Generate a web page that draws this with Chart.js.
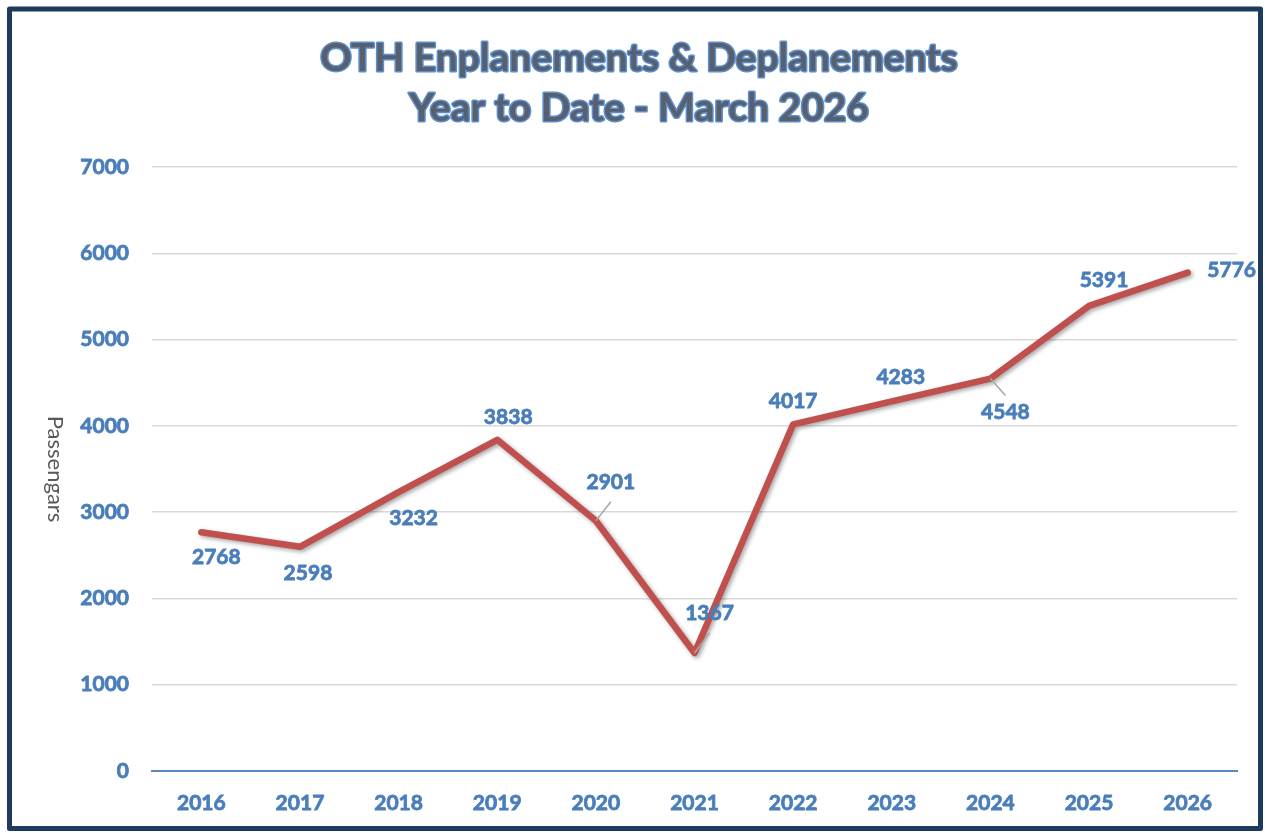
<!DOCTYPE html>
<html>
<head>
<meta charset="utf-8">
<script src="https://cdn.jsdelivr.net/npm/chart.js@4.4.1/dist/chart.umd.min.js"></script>
<style>
  html, body { margin: 0; padding: 0; background: #fff; }
  canvas { display: block; }
</style>
</head>
<body>
<canvas id="myChart" width="1265" height="833"></canvas>
<script>
const years = ["2016", "2017", "2018", "2019", "2020", "2021", "2022", "2023", "2024", "2025", "2026"];
const passengers = [2768, 2598, 3232, 3838, 2901, 1367, 4017, 4283, 4548, 5391, 5776];
const yTicks = [0, 1000, 2000, 3000, 4000, 5000, 6000, 7000];
const titleLines = ["OTH Enplanements & Deplanements", "Year to Date - March 2026"];
const axisTitle = "Passengars";

// where each value label sits relative to its point: [dx, dy, leader line]
const labelPlacement = [
  [15, 25, false], [8, 26, false], [15, 26, false], [11, -23, false],
  [15, -38, true], [15, -40, true], [0, -23, false], [9, -24, false],
  [15, 34, true], [15, -26, false], [44, -2, false]
];

const BLUE = "#4a7ebb";
const FONT = "Lato, 'Open Sans', sans-serif";

const decorPlugin = {
  id: "decor",
  beforeDatasetsDraw(chart) {
    const ctx = chart.ctx;
    ctx.save();
    ctx.shadowColor = "rgba(0,0,0,0.35)";
    ctx.shadowBlur = 4;
    ctx.shadowOffsetX = 2;
    ctx.shadowOffsetY = 2;
  },
  afterDatasetsDraw(chart) {
    const ctx = chart.ctx;
    ctx.restore();

    // value labels
    const meta = chart.getDatasetMeta(0);
    ctx.save();
    ctx.font = "bold 21px " + FONT;
    ctx.textAlign = "center";
    ctx.textBaseline = "middle";
    meta.data.forEach((pt, i) => {
      const [dx, dy, leader] = labelPlacement[i];
      if (leader) {
        ctx.strokeStyle = "#a6a6a6";
        ctx.lineWidth = 1.5;
        ctx.beginPath();
        ctx.moveTo(pt.x, pt.y);
        ctx.lineTo(pt.x + dx, pt.y + dy * 0.5);
        ctx.stroke();
      }
      ctx.fillStyle = BLUE;
      ctx.strokeStyle = BLUE;
      ctx.lineWidth = 0.8;
      ctx.fillText(String(passengers[i]), pt.x + dx, pt.y + dy);
      ctx.strokeText(String(passengers[i]), pt.x + dx, pt.y + dy);
    });
    ctx.restore();
  },
  afterDraw(chart) {
    const ctx = chart.ctx;
    ctx.save();
    // title with blue outline
    ctx.font = "bold 39px " + FONT;
    ctx.textAlign = "center";
    ctx.textBaseline = "middle";
    ctx.lineJoin = "round";
    titleLines.forEach((line, i) => {
      const y = 58 + i * 50;
      ctx.strokeStyle = "#5b8fd0";
      ctx.lineWidth = 3;
      ctx.strokeText(line, 639, y);
      ctx.fillStyle = "#58606e";
      ctx.fillText(line, 639, y);
    });

    // axis title, reading top to bottom
    ctx.translate(55, 469);
    ctx.rotate(Math.PI / 2);
    ctx.font = "22px " + FONT;
    ctx.fillStyle = "#595959";
    ctx.fillText(axisTitle, 0, 0);
    ctx.restore();

    // outer frame
    ctx.save();
    ctx.strokeStyle = "#1e3a5f";
    ctx.lineWidth = 5;
    ctx.lineJoin = "round";
    ctx.strokeRect(9.5, 9, 1251, 819.5);
    ctx.restore();
  }
};

new Chart(document.getElementById("myChart"), {
  type: "line",
  data: {
    labels: years,
    datasets: [{
      data: passengers,
      borderColor: "#c0504d",
      borderWidth: 6.5,
      borderCapStyle: "round",
      borderJoinStyle: "round",
      pointRadius: 0,
      tension: 0,
      fill: false
    }]
  },
  options: {
    responsive: false,
    animation: false,
    layout: { padding: { top: 167, right: 28, left: 0, bottom: 0 } },
    plugins: {
      legend: { display: false },
      tooltip: { enabled: false }
    },
    scales: {
      x: {
        offset: true,
        grid: { display: false, drawTicks: false },
        border: { color: "#5b87c0", width: 2 },
        ticks: {
          color: BLUE,
          padding: 20,
          textStrokeColor: BLUE,
          textStrokeWidth: 0.8,
          font: { family: FONT, size: 21, weight: "bold" }
        },
        afterFit(scale) { scale.height = 62; }
      },
      y: {
        min: 0,
        max: 7000,
        afterBuildTicks(scale) { scale.ticks = yTicks.map(v => ({ value: v })); },
        grid: { color: "#d9d9d9", lineWidth: 1.5, drawTicks: false },
        border: { display: false },
        ticks: {
          color: BLUE,
          padding: 23,
          textStrokeColor: BLUE,
          textStrokeWidth: 0.8,
          font: { family: FONT, size: 21, weight: "bold" },
          callback: (v) => String(v)
        },
        afterFit(scale) { scale.width = 152; }
      }
    }
  },
  plugins: [decorPlugin]
});
</script>
</body>
</html>
